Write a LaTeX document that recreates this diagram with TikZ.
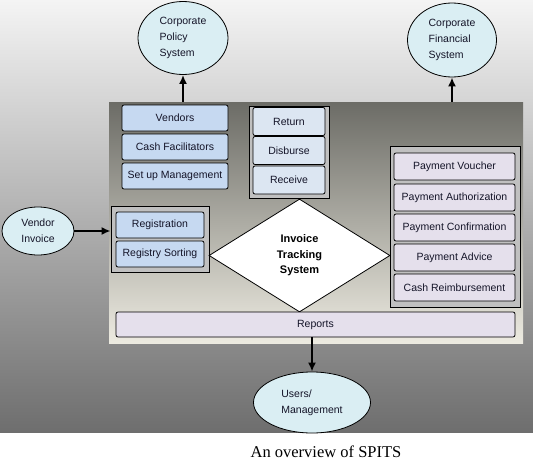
\documentclass[tikz,border=0pt]{standalone}
\usepackage{fontspec}
\setmainfont{Liberation Serif}
\setsansfont{Liberation Sans}
\usepackage{tikz}
\usetikzlibrary{shapes.geometric,arrows.meta,positioning}
\definecolor{ovalfill}{RGB}{218,238,243}
\definecolor{bluebox}{RGB}{198,217,241}
\definecolor{paleblue}{RGB}{220,230,242}
\definecolor{lilac}{RGB}{229,224,236}
\definecolor{groupgray}{RGB}{192,192,192}
\definecolor{inktext}{RGB}{20,20,40}

\begin{document}
\begin{tikzpicture}[x=1pt,y=-1pt,
    every node/.style={font=\sffamily\fontsize{10.5}{12}\selectfont, text=inktext},
    box/.style={draw, rounded corners=2pt, line width=0.8pt, inner sep=0pt, minimum height=27pt},
    group/.style={draw, fill=groupgray, line width=0.8pt, inner sep=0pt},
    oval/.style={ellipse, draw, fill=ovalfill, line width=0.8pt, inner sep=0pt, align=left,
                 font=\sffamily\fontsize{10.5}{16}\selectfont},
    flow/.style={line width=2.4pt, -{Latex[length=9pt,width=8pt]}}]
        \useasboundingbox (0,0) rectangle (533,466);
        % Background and main panel
        \fill[top color={rgb,255:red,244;green,244;blue,244}, bottom color={rgb,255:red,110;green,110;blue,110}] (0,0) rectangle (533,432);
        \node[inner sep=0pt, minimum width=414pt, minimum height=241pt,
              top color={rgb,255:red,108;green,108;blue,102}, bottom color={rgb,255:red,237;green,235;blue,225}] (panel) at (316,222.5) {};
        % Outside systems
        \node[oval, minimum width=90pt, minimum height=73pt] (policy) at (183,38) {Corporate\\Policy\\System};
        \node[oval, minimum width=89pt, minimum height=74pt] (financial) at (452,40) {Corporate\\Financial\\System};
        \node[oval, minimum width=72pt, minimum height=48pt] (invoice) at (38,231) {Vendor\\Invoice};
        \node[oval, minimum width=117pt, minimum height=61pt] (users) at (312,402.5) {Users/\\Management};
        % Setup boxes
        \node[box, fill=bluebox, minimum width=106pt, minimum height=26pt] (vendors) at (175,118) {Vendors};
        \node[box, fill=bluebox, minimum width=106pt, minimum height=26pt] (cashfac) at (175,147) {Cash Facilitators};
        \node[box, fill=bluebox, minimum width=106pt, minimum height=26pt] (setup) at (175,176) {Set up Management};
        % Return / disburse / receive
        \node[group, minimum width=80pt, minimum height=92pt] (movegroup) at (289,152) {};
        \node[box, fill=paleblue, minimum width=72pt, minimum height=28pt] (return) at (289,121.5) {Return};
        \node[box, fill=paleblue, minimum width=72pt, minimum height=28pt] (disburse) at (289,150.5) {Disburse};
        \node[box, fill=paleblue, minimum width=72pt, minimum height=28pt] (receive) at (289,180) {Receive};
        % Registration
        \node[group, minimum width=98pt, minimum height=66pt] (reggroup) at (160,239) {};
        \node[box, fill=bluebox, minimum width=88pt, minimum height=26pt] (registration) at (160,225) {Registration};
        \node[box, fill=bluebox, minimum width=88pt, minimum height=26pt] (sorting) at (160,254) {Registry Sorting};
        % Payment documents
        \node[group, minimum width=130pt, minimum height=161pt] (paygroup) at (455,226.5) {};
        \node[box, fill=lilac, minimum width=121pt] (voucher) at (454.5,166.5) {Payment Voucher};
        \node[box, fill=lilac, minimum width=121pt] (authorization) at (454.5,197.5) {Payment Authorization};
        \node[box, fill=lilac, minimum width=121pt] (confirmation) at (454.5,227.5) {Payment Confirmation};
        \node[box, fill=lilac, minimum width=121pt] (advice) at (454.5,257.5) {Payment Advice};
        \node[box, fill=lilac, minimum width=121pt] (reimbursement) at (454.5,287.5) {Cash Reimbursement};
        % Core system and reports
        \node[diamond, draw, fill=white, line width=0.8pt, inner sep=0pt, minimum width=181pt, minimum height=113pt,
              align=center, font=\sffamily\bfseries\fontsize{11}{15.5}\selectfont, text=black] (its) at (299.5,255.5) {Invoice\\Tracking\\System};
        \node[box, fill=lilac, minimum width=399pt, minimum height=25pt] (reports) at (315.5,324.5) {Reports};
        % Flows
        \draw[flow] (policy.south |- panel.north) -- (policy.south);
        \draw[flow] (financial.south |- panel.north) -- (financial.south);
        \draw[flow] (invoice.east) -- (invoice.east -| reggroup.west);
        \draw[flow] (reports.south -| users.north) -- (users.north);
        % Caption
        \node[font=\rmfamily\fontsize{16.5}{20}\selectfont, text=black] (caption) at (326,452) {An overview of SPITS};
\end{tikzpicture}
\end{document}
